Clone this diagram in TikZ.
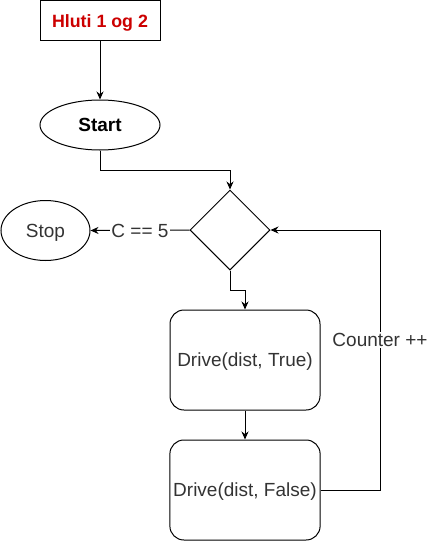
\documentclass[tikz,border=0pt]{standalone}
\usepackage{fontspec}
\setmainfont{Liberation Sans}
\usetikzlibrary{shapes.geometric,arrows.meta}
\definecolor{hlutired}{HTML}{CC0000}
\definecolor{txtgray}{HTML}{333333}
\begin{document}
\begin{tikzpicture}[x=1pt,y=-1pt,line width=1pt,
        font=\fontsize{19}{22}\selectfont,
        every node/.style={text height=13.6pt,text depth=0pt},
        arr/.style={-{Stealth[length=8pt,width=7pt]}},
        lbl/.style={fill=white,inner sep=1pt,text=txtgray},
        drivebox/.style={draw,rounded corners=14pt,minimum width=150pt,minimum height=100pt,text=txtgray}]
            \useasboundingbox (0,0) rectangle (428,541);
            \node[draw, minimum width=120pt, minimum height=40pt, inner sep=0pt, font=\fontsize{17.8}{20}\selectfont\bfseries, text=hlutired] (title) at (100,20.5) {Hluti 1 og 2};
            \node[draw, ellipse, minimum width=120pt, minimum height=50pt, inner sep=0pt] (start) at (100,125) {\textbf{Start}};
            \node[draw, diamond, minimum width=80pt, minimum height=80pt, inner sep=0pt, text height=0pt] (dec) at (230,230) {};
            \node[draw, ellipse, minimum width=89pt, minimum height=60pt, inner sep=0pt, text=txtgray] (stop) at (45.5,230.5) {Stop};
            \node[drivebox] (drvtrue) at (245,360) {Drive(dist, True)};
            \node[drivebox] (drvfalse) at (245,490) {Drive(dist, False)};
            \draw[arr] (title) -- (start);
            \draw[arr] (start.south) -- ++(0,20) -| (dec.north);
            \draw[arr] (dec.west) -- (stop.east) node[lbl, midway] (ceq) {C == 5};
            \draw[arr] (dec.south) -- ++(0,20) -| (drvtrue.north);
            \draw[arr] (drvtrue) -- (drvfalse);
            \draw[arr] (drvfalse.east) -- ++(60,0) |- (dec.east);
            \node[lbl] (cnt) at (380,340) {Counter ++};
        \end{tikzpicture}
\end{document}
